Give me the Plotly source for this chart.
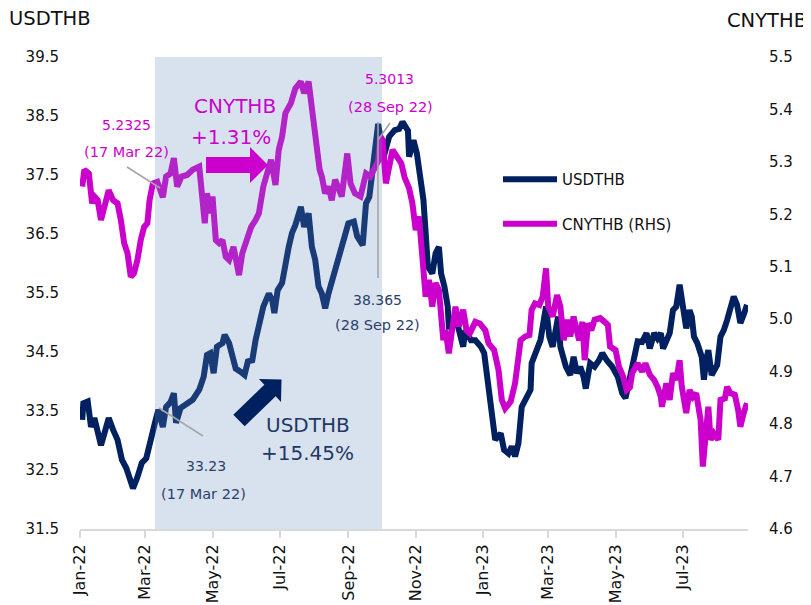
import plotly.graph_objects as go

# ---------------- data ----------------
usd_dates = [
    "2022-01-03", "2022-01-04", "2022-01-08", "2022-01-11", "2022-01-14", "2022-01-17", "2022-01-20",
    "2022-01-24", "2022-01-27", "2022-01-31", "2022-02-04", "2022-02-08", "2022-02-12", "2022-02-15",
    "2022-02-18", "2022-02-22", "2022-02-26", "2022-03-02", "2022-03-06", "2022-03-10", "2022-03-13",
    "2022-03-17", "2022-03-20", "2022-03-24", "2022-03-27", "2022-03-29", "2022-04-02", "2022-04-08",
    "2022-04-13", "2022-04-19", "2022-04-23", "2022-04-26", "2022-04-29", "2022-05-02", "2022-05-05",
    "2022-05-10", "2022-05-12", "2022-05-16", "2022-05-19", "2022-05-22", "2022-05-26", "2022-05-30",
    "2022-06-02", "2022-06-06", "2022-06-09", "2022-06-12", "2022-06-16", "2022-06-21", "2022-06-24",
    "2022-06-26", "2022-06-29", "2022-07-03", "2022-07-06", "2022-07-09", "2022-07-12", "2022-07-15",
    "2022-07-20", "2022-07-23", "2022-07-27", "2022-07-30", "2022-08-02", "2022-08-05", "2022-08-08",
    "2022-08-11", "2022-08-14", "2022-08-19", "2022-08-23", "2022-08-28", "2022-09-01", "2022-09-06",
    "2022-09-09", "2022-09-14", "2022-09-17", "2022-09-20", "2022-09-23", "2022-09-26", "2022-09-28",
    "2022-10-03", "2022-10-08", "2022-10-13", "2022-10-17", "2022-10-20", "2022-10-25", "2022-10-26",
    "2022-10-30", "2022-11-02", "2022-11-05", "2022-11-08", "2022-11-10", "2022-11-12", "2022-11-16",
    "2022-11-19", "2022-11-22", "2022-11-24", "2022-11-27", "2022-11-30", "2022-12-01", "2022-12-04",
    "2022-12-07", "2022-12-10", "2022-12-14", "2022-12-16", "2022-12-21", "2022-12-25", "2022-12-30",
    "2023-01-02", "2023-01-05", "2023-01-09", "2023-01-12", "2023-01-17", "2023-01-20", "2023-01-24",
    "2023-01-27", "2023-01-30", "2023-02-02", "2023-02-05", "2023-02-08", "2023-02-13", "2023-02-14",
    "2023-02-19", "2023-02-22", "2023-02-27", "2023-03-02", "2023-03-05", "2023-03-08", "2023-03-10",
    "2023-03-12", "2023-03-17", "2023-03-21", "2023-03-24", "2023-03-27", "2023-03-30", "2023-04-02",
    "2023-04-04", "2023-04-08", "2023-04-12", "2023-04-16", "2023-04-19", "2023-04-23", "2023-04-28",
    "2023-05-03", "2023-05-07", "2023-05-10", "2023-05-13", "2023-05-17", "2023-05-21", "2023-05-25",
    "2023-05-29", "2023-06-01", "2023-06-05", "2023-06-08", "2023-06-11", "2023-06-13", "2023-06-16",
    "2023-06-19", "2023-06-22", "2023-06-25", "2023-06-28", "2023-06-30", "2023-07-02", "2023-07-04",
    "2023-07-07", "2023-07-09", "2023-07-11", "2023-07-14", "2023-07-18", "2023-07-20", "2023-07-22",
    "2023-07-24", "2023-07-27", "2023-07-30", "2023-08-01", "2023-08-04", "2023-08-07", "2023-08-10",
    "2023-08-13", "2023-08-16", "2023-08-19", "2023-08-22", "2023-08-25", "2023-08-28",
]
usd_values = [
    33.35, 33.63, 33.66, 33.23, 33.38, 33.13, 32.92,
    33.18, 33.38, 33.18, 33.01, 32.67, 32.53, 32.36,
    32.19, 32.38, 32.62, 32.70, 32.96, 33.31, 33.52,
    33.23, 33.57, 33.65, 33.80, 33.30, 33.55, 33.64,
    33.69, 33.86, 34.08, 34.45, 34.48, 34.14, 34.59,
    34.65, 34.79, 34.65, 34.42, 34.22, 34.17, 34.11,
    34.34, 34.36, 34.70, 34.93, 35.27, 35.49, 35.38,
    35.16, 35.55, 35.67, 36.06, 36.28, 36.52, 36.65,
    36.96, 36.62, 36.85, 36.28, 36.06, 35.61, 35.49,
    35.24, 35.49, 35.83, 36.12, 36.46, 36.68, 36.71,
    36.46, 36.31, 37.02, 37.13, 37.58, 37.98, 38.365,
    37.81, 38.15, 38.26, 38.28, 38.40, 38.25, 37.81,
    38.09, 37.87, 37.53, 37.08, 36.52, 35.95, 35.83,
    36.17, 36.28, 35.83, 35.61, 35.27, 34.93, 34.93,
    35.10, 34.87, 34.59, 34.87, 34.70, 34.70, 34.59,
    34.48, 33.97, 33.40, 33.01, 33.12, 32.84, 32.78,
    32.90, 32.73, 32.95, 33.57, 33.69, 33.86, 34.31,
    34.53, 34.70, 35.27, 34.76, 34.59, 34.87, 35.10,
    34.59, 34.25, 34.11, 34.42, 34.14, 34.25, 34.08,
    33.88, 34.31, 34.25, 34.36, 34.48, 34.36, 34.25,
    34.08, 33.80, 33.72, 33.97, 34.30, 34.68, 34.67,
    34.82, 34.56, 34.82, 34.73, 34.82, 34.56, 34.73,
    34.82, 35.21, 35.27, 35.64, 35.44, 35.16, 34.90,
    35.21, 35.10, 34.76, 34.65, 34.42, 34.03, 34.36,
    34.53, 34.11, 34.22, 34.28, 34.76, 34.87, 35.04,
    35.27, 35.44, 35.30, 34.99, 35.13, 35.30,
]

cny_dates = [
    "2022-01-03", "2022-01-05", "2022-01-09", "2022-01-12", "2022-01-14", "2022-01-17", "2022-01-20",
    "2022-01-24", "2022-01-27", "2022-01-31", "2022-02-04", "2022-02-07", "2022-02-10", "2022-02-13",
    "2022-02-16", "2022-02-19", "2022-02-22", "2022-02-25", "2022-02-28", "2022-03-03", "2022-03-05",
    "2022-03-08", "2022-03-12", "2022-03-17", "2022-03-20", "2022-03-24", "2022-03-27", "2022-03-30",
    "2022-04-03", "2022-04-08", "2022-04-13", "2022-04-19", "2022-04-22", "2022-04-24", "2022-04-26",
    "2022-04-29", "2022-05-01", "2022-05-04", "2022-05-07", "2022-05-10", "2022-05-13", "2022-05-16",
    "2022-05-20", "2022-05-25", "2022-05-28", "2022-06-01", "2022-06-05", "2022-06-09", "2022-06-12",
    "2022-06-16", "2022-06-20", "2022-06-23", "2022-06-27", "2022-06-30", "2022-07-03", "2022-07-06",
    "2022-07-11", "2022-07-15", "2022-07-20", "2022-07-23", "2022-07-27", "2022-07-29", "2022-08-01",
    "2022-08-04", "2022-08-06", "2022-08-08", "2022-08-11", "2022-08-14", "2022-08-17", "2022-08-20",
    "2022-08-23", "2022-08-26", "2022-08-31", "2022-09-03", "2022-09-07", "2022-09-12", "2022-09-17",
    "2022-09-21", "2022-09-24", "2022-09-28", "2022-09-30", "2022-10-02", "2022-10-05", "2022-10-08",
    "2022-10-11", "2022-10-15", "2022-10-19", "2022-10-22", "2022-10-26", "2022-10-29", "2022-11-01",
    "2022-11-04", "2022-11-06", "2022-11-08", "2022-11-10", "2022-11-13", "2022-11-16", "2022-11-19",
    "2022-11-22", "2022-11-26", "2022-11-28", "2022-12-01", "2022-12-04", "2022-12-07", "2022-12-10",
    "2022-12-14", "2022-12-17", "2022-12-20", "2022-12-25", "2022-12-29", "2023-01-03", "2023-01-06",
    "2023-01-11", "2023-01-15", "2023-01-18", "2023-01-21", "2023-01-26", "2023-01-30", "2023-02-04",
    "2023-02-08", "2023-02-12", "2023-02-14", "2023-02-17", "2023-02-21", "2023-02-24", "2023-02-27",
    "2023-03-01", "2023-03-05", "2023-03-09", "2023-03-12", "2023-03-15", "2023-03-18", "2023-03-21",
    "2023-03-24", "2023-03-26", "2023-03-29", "2023-04-01", "2023-04-03", "2023-04-06", "2023-04-09",
    "2023-04-12", "2023-04-17", "2023-04-21", "2023-04-24", "2023-04-26", "2023-05-01", "2023-05-04",
    "2023-05-08", "2023-05-11", "2023-05-14", "2023-05-16", "2023-05-21", "2023-05-25", "2023-05-28",
    "2023-06-01", "2023-06-05", "2023-06-08", "2023-06-11", "2023-06-12", "2023-06-16", "2023-06-19",
    "2023-06-22", "2023-06-25", "2023-06-28", "2023-06-30", "2023-07-02", "2023-07-04", "2023-07-07",
    "2023-07-10", "2023-07-13", "2023-07-15", "2023-07-17", "2023-07-19", "2023-07-22", "2023-07-24",
    "2023-07-26", "2023-07-29", "2023-08-02", "2023-08-04", "2023-08-08", "2023-08-10", "2023-08-13",
    "2023-08-17", "2023-08-20", "2023-08-22", "2023-08-25", "2023-08-28",
]
cny_values = [
    5.253, 5.285, 5.278, 5.221, 5.234, 5.227, 5.189,
    5.221, 5.246, 5.227, 5.221, 5.189, 5.145, 5.126,
    5.081, 5.088, 5.113, 5.151, 5.176, 5.183, 5.227,
    5.259, 5.262, 5.2325, 5.272, 5.278, 5.307, 5.253,
    5.272, 5.275, 5.285, 5.291, 5.240, 5.183, 5.240,
    5.202, 5.234, 5.151, 5.145, 5.151, 5.119, 5.113,
    5.138, 5.084, 5.126, 5.151, 5.176, 5.189, 5.202,
    5.253, 5.285, 5.304, 5.256, 5.323, 5.348, 5.393,
    5.412, 5.440, 5.453, 5.431, 5.453, 5.418, 5.367,
    5.336, 5.285, 5.272, 5.240, 5.253, 5.227, 5.266,
    5.246, 5.234, 5.316, 5.259, 5.240, 5.234, 5.278,
    5.272, 5.285, 5.3013, 5.348, 5.342, 5.259, 5.291,
    5.323, 5.310, 5.297, 5.270, 5.250, 5.221, 5.170,
    5.196, 5.151, 5.088, 5.043, 5.075, 5.024, 5.069,
    5.056, 4.960, 4.979, 4.935, 4.979, 5.024, 4.986,
    5.018, 4.979, 4.973, 4.995, 4.992, 4.979, 4.954,
    4.941, 4.903, 4.846, 4.830, 4.843, 4.878, 4.960,
    4.967, 4.970, 5.018, 5.030, 5.027, 5.043, 5.097,
    5.024, 5.005, 5.046, 5.024, 4.960, 4.999, 4.967,
    5.005, 4.986, 4.960, 4.995, 4.922, 4.992, 4.979,
    4.999, 5.002, 4.995, 4.989, 4.948, 4.941, 4.910,
    4.890, 4.865, 4.870, 4.897, 4.916, 4.900, 4.916,
    4.894, 4.884, 4.871, 4.852, 4.833, 4.878, 4.846,
    4.897, 4.884, 4.922, 4.871, 4.852, 4.821, 4.865,
    4.852, 4.859, 4.833, 4.808, 4.719, 4.795, 4.833,
    4.770, 4.782, 4.770, 4.846, 4.849, 4.871, 4.859,
    4.856, 4.827, 4.795, 4.821, 4.840,
]

series_names = ["USDTHB", "CNYTHB (RHS)"]
left_title = "USDTHB"
right_title = "CNYTHB"
left_ticks = [31.5, 32.5, 33.5, 34.5, 35.5, 36.5, 37.5, 38.5, 39.5]
right_ticks = [4.6, 4.7, 4.8, 4.9, 5.0, 5.1, 5.2, 5.3, 5.4, 5.5]

NAVY = "#002060"
MAGENTA = "#cc00cc"
NOTE_NAVY = "#2b3f6b"
FONT = "DejaVu Sans"

# ---------------- layout geometry (reference-picture pixels) ----------------
# the page body adds an 8px margin, so the figure itself is 8px smaller
OFF = 8
W, H = 811 - OFF, 605 - OFF
PL, PR, PT, PB = 80, 748, 57, 529   # plot area in picture pixels


def px(x):
    return (x - PL) / (PR - PL)


def py(y):
    return (PB - y) / (PB - PT)


def poly(points):
    return "M " + " L ".join(f"{px(x):.5f},{py(y):.5f}" for x, y in points) + " Z"


fig = go.Figure()
fig.add_trace(go.Scatter(
    x=usd_dates, y=usd_values, name=series_names[0], mode="lines",
    line=dict(color=NAVY, width=6), yaxis="y", legendgroup="a",
))
fig.add_trace(go.Scatter(
    x=cny_dates, y=cny_values, name=series_names[1], mode="lines",
    line=dict(color=MAGENTA, width=6), yaxis="y2", legendgroup="b",
))

shapes = []
# shaded period (overlaid, translucent)
shapes.append(dict(type="rect", xref="x", yref="y",
                   x0="2022-03-09 21:00", x1="2022-10-01 12:00", y0=31.5, y1=39.725,
                   fillcolor="rgb(99,139,187)", opacity=0.25, line=dict(width=0), layer="above"))
# leader lines
for (x0, y0, x1, y1) in [(127, 167, 160, 188), (159, 408, 203, 436), (378, 122, 378, 278), (378, 140, 390, 123)]:
    shapes.append(dict(type="line", xref="paper", yref="paper",
                       x0=px(x0), y0=py(y0), x1=px(x1), y1=py(y1),
                       line=dict(color="#a6a6a6", width=1.6), layer="above"))
# magenta block arrow
shapes.append(dict(type="path", xref="paper", yref="paper", layer="above",
                   path=poly([(206, 157), (250, 157), (250, 147), (268, 165), (250, 183), (250, 173), (206, 173)]),
                   fillcolor=MAGENTA, line=dict(width=0)))
# navy block arrow
shapes.append(dict(type="path", xref="paper", yref="paper", layer="above",
                   path=poly([(233.3, 414.8), (264.3, 384.8), (259, 379), (281.5, 379.5), (281, 402), (275.7, 396.2), (244.7, 426.2)]),
                   fillcolor=NAVY, line=dict(width=0)))

annotations = []


def note(text, x, y, color, size, xanchor="center"):
    annotations.append(dict(text=text, x=px(x), y=py(y), xref="paper", yref="paper",
                            xanchor=xanchor, yanchor="middle", showarrow=False,
                            font=dict(family=FONT, size=size, color=color)))


note("5.2325", 126, 125, MAGENTA, 14)
note("(17 Mar 22)", 126, 152, MAGENTA, 14.5)
note("CNYTHB", 235, 106, MAGENTA, 20)
note("+1.31%", 231, 137, MAGENTA, 20)
note("5.3013", 389, 79, MAGENTA, 14)
note("(28 Sep 22)", 390, 107, MAGENTA, 14.5)
note("38.365", 377, 300, NOTE_NAVY, 14)
note("(28 Sep 22)", 377, 325, NOTE_NAVY, 14.5)
note("33.23", 206, 466, NOTE_NAVY, 14)
note("(17 Mar 22)", 203, 494, NOTE_NAVY, 14.5)
note("USDTHB", 308, 425, "#1f3864", 20)
note("+15.45%", 307, 453, "#1f3864", 20)
note(left_title, 7, 18, "#111111", 19.5, xanchor="left")
note(right_title, 809, 20, "#111111", 19.5, xanchor="right")

fig.update_layout(
    width=W, height=H,
    margin=dict(l=PL - OFF, r=811 - PR, t=PT - OFF, b=605 - PB, pad=0, autoexpand=False),
    paper_bgcolor="white", plot_bgcolor="white",
    font=dict(family=FONT, size=15, color="#111111"),
    shapes=shapes, annotations=annotations,
    showlegend=True,
    legend=dict(x=px(498), y=py(163), xanchor="left", yanchor="top",
                bgcolor="rgba(0,0,0,0)", font=dict(family=FONT, size=15, color="#111111"),
                itemwidth=54, tracegroupgap=22, traceorder="grouped"),
    xaxis=dict(
        type="date", range=["2022-01-01", "2023-08-28 22:00"], automargin=False,
        tick0="2022-01-01", dtick="M2", tickformat="%b-%y", tickangle=-90,
        ticks="outside", ticklen=7, tickwidth=2, tickcolor="#d9d9d9",
        showline=True, linecolor="#d9d9d9", linewidth=2,
        showgrid=False, zeroline=False,
        tickfont=dict(family=FONT, size=16, color="#111111"),
    ),
    yaxis=dict(
        range=[31.5, 39.5], tickvals=left_ticks, ticktext=[f"{v:.1f}" for v in left_ticks],
        automargin=False,
        showgrid=False, zeroline=False, showline=False, ticks="",
        ticklabelstandoff=20, tickfont=dict(family=FONT, size=15, color="#111111"),
    ),
    yaxis2=dict(
        range=[4.6, 5.5], tickvals=right_ticks, ticktext=[f"{v:.1f}" for v in right_ticks],
        overlaying="y", side="right", automargin=False,
        showgrid=False, zeroline=False, showline=False, ticks="",
        ticklabelstandoff=20, tickfont=dict(family=FONT, size=15, color="#111111"),
    ),
)

fig.write_html("out.html")
